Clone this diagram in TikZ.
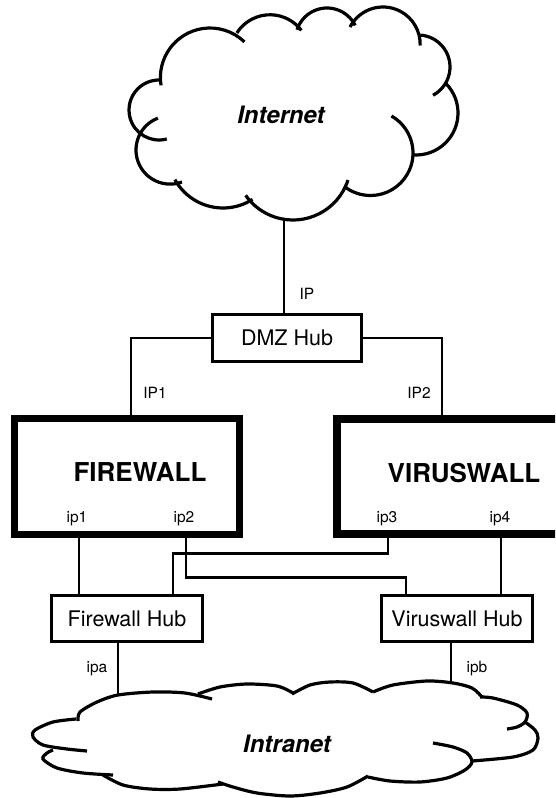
\documentclass[tikz,border=0pt]{standalone}
\usepackage{fontspec}
\setmainfont{TeX Gyre Heros}
\newcommand\cloudarc[4]{\draw[cloudline] (#1) ++(#2:#4pt) arc[start angle=#2, end angle=#3, radius=#4pt];}
\tikzset{
  conn/.style={line width=2.9pt},
  hubbox/.style={draw, line width=3.3pt, minimum width=150.6pt, minimum height=45.6pt, inner sep=0pt, font=\fontsize{21.5}{24}\selectfont},
  wallbox/.style={draw, inner sep=0pt},
  walltext/.style={font=\fontsize{26}{30}\selectfont\bfseries, inner sep=0pt},
  cloudtext/.style={font=\fontsize{24}{28}\selectfont\bfseries\itshape, inner sep=0pt},
  portlabel/.style={font=\fontsize{15.5}{18}\selectfont, inner sep=0pt},
  cloudline/.style={line width=3.2pt, line cap=butt},
}
\begin{document}
\begin{tikzpicture}[x=1pt,y=1pt]
\clip (0,0) rectangle (555,-798);
\fill[white] (0,0) rectangle (555,-798);

% ---------- Internet cloud ----------
\cloudarc{159,-110}{285}{88}{30}
\cloudarc{210,-77.6}{189}{46}{49.6}
\cloudarc{270,-54}{147.5}{37}{39.25}
\cloudarc{327,-39.5}{162}{26.6}{31.5}
\cloudarc{383,-44.2}{152.5}{-2}{37.2}
\cloudarc{418,-67}{86}{-62}{32}
\cloudarc{416,-113}{44}{-94}{42}
\cloudarc{370.5,-153}{60.5}{-128}{42.5}
\cloudarc{293,-162.2}{-18}{-145}{57.8}
\cloudarc{223,-153}{-57.5}{-151}{55}
\cloudarc{170.1,-150}{290.4}{111}{34.1}
\coordinate (inetb) at (284,-219);
\node[cloudtext] (inet) at (281,-115) {Internet};

% ---------- Intranet cloud ----------
\draw[cloudline] plot[smooth] coordinates {(87,-751) (67,-749) (43,-745) (33,-737) (35,-730) (53,-722) (76,-719)};
\draw[cloudline] plot[smooth] coordinates {(78,-721) (80,-712) (97,-702) (118,-695) (153,-692) (185,-693) (212,-699)};
\draw[cloudline] plot[smooth] coordinates {(198,-694) (220,-687) (247,-684) (277,-686) (293,-693)};
\draw[cloudline] plot[smooth] coordinates {(292,-694) (310,-685) (330,-682) (353,-683) (373,-692)};
\draw[cloudline] plot[smooth] coordinates {(373,-692) (393,-685) (427,-681) (453,-683) (472,-688) (482,-697)};
\draw[cloudline] plot[smooth] coordinates {(480,-697) (493,-698) (517,-705) (527,-713) (525,-722) (517,-727) (507,-729)};
\draw[cloudline] plot[smooth] coordinates {(525,-722) (535,-730) (538,-738) (533,-750) (513,-757) (472,-761)};
\draw[cloudline] plot[smooth] coordinates {(433,-743) (453,-747) (467,-753) (472,-762) (465,-770) (447,-778) (420,-782) (390,-781) (368,-777)};
\draw[cloudline] plot[smooth] coordinates {(368,-776) (347,-787) (320,-793) (290,-796) (257,-793) (233,-787) (218,-782)};
\draw[cloudline] plot[smooth] coordinates {(223,-784) (180,-789) (150,-789) (123,-785) (103,-775)};
\draw[cloudline] plot[smooth] coordinates {(113,-775) (83,-773) (57,-768) (43,-759) (47,-753) (53,-750)};
\coordinate (ipaend) at (118,-695);
\coordinate (ipbend) at (451,-682);
\node[cloudtext] (intra) at (287,-744) {Intranet};

% ---------- boxes ----------
\node[hubbox, minimum width=149pt, minimum height=47pt] (dmz) at (287,-338) {DMZ Hub};
\node[wallbox, line width=7pt, minimum width=225pt, minimum height=116pt] (fw) at (127,-476.5) {};
\node[wallbox, line width=8pt, minimum width=238pt, minimum height=115pt] (vw) at (456,-476.5) {};
\node[walltext] (fwt) at (140,-472) {FIREWALL};
\node[walltext] (vwt) at (464,-473) {VIRUSWALL};
\node[hubbox] (fwhub) at (127,-618.5) {Firewall Hub};
\node[hubbox] (vwhub) at (457,-618.5) {Viruswall Hub};

% ---------- connectors ----------
\draw[conn] (inetb) -- (inetb |- dmz.north);
\draw[conn] (dmz.west) -| ([xshift=4pt]fw.north);
\draw[conn] (dmz.east) -| ([xshift=-14pt]vw.north);
\draw[conn] ([xshift=-48pt]fw.south) -- ([xshift=-48pt]fw.south |- fwhub.north);
\draw[conn] ([xshift=59pt]fw.south) |- ([xshift=-51pt,yshift=17pt]vwhub.north) -- ([xshift=-51pt]vwhub.north);
\draw[conn] ([xshift=-68pt]vw.south) |- ([xshift=46pt,yshift=41pt]fwhub.north) -- ([xshift=46pt]fwhub.north);
\draw[conn] ([xshift=45pt]vw.south) -- ([xshift=45pt]vw.south |- vwhub.north);
\draw[conn] (fwhub.south -| ipaend) -- (ipaend);
\draw[conn] (vwhub.south -| ipbend) -- (ipbend);

% ---------- labels ----------
\node[portlabel] (lIP) at (307,-294) {IP};
\node[portlabel] (lIP1) at (155,-393) {IP1};
\node[portlabel] (lIP2) at (419,-393) {IP2};
\node[portlabel] (lip1) at (77,-519) {ip1};
\node[portlabel] (lip2) at (184,-519) {ip2};
\node[portlabel] (lip3) at (387,-519) {ip3};
\node[portlabel] (lip4) at (500,-519) {ip4};
\node[portlabel] (lipa) at (97,-669) {ipa};
\node[portlabel] (lipb) at (477,-669) {ipb};
\end{tikzpicture}
\end{document}
